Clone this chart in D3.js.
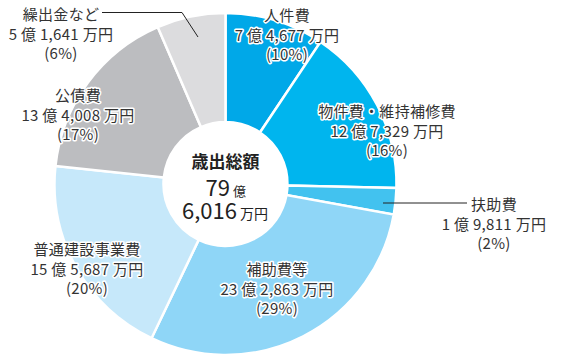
<!DOCTYPE html>
<html>
<head>
<meta charset="utf-8">
<script src="https://cdn.jsdelivr.net/npm/d3@7"></script>
<style>
  body { margin: 0; background: #fff; }
  svg { font-family: "Noto Sans CJK JP", "Noto Sans", sans-serif; }
  .lbl { fill: #333; stroke: #fff; stroke-width: 3px; paint-order: stroke; stroke-linejoin: round; letter-spacing: 0.3px; }
</style>
</head>
<body>
<svg id="chart" width="569" height="362"></svg>
<script>
// data, in 万円, clockwise from the top
const categories = ["人件費", "物件費・維持補修費", "扶助費", "補助費等", "普通建設事業費", "公債費", "繰出金など"]
const values = [74677, 127329, 19811, 232863, 155687, 134008, 51641]
const percents = ["10%", "16%", "2%", "29%", "20%", "17%", "6%"]
const totalOku = "79", totalMan = "6,016"

const colors = ["#00a8e8", "#00b5ee", "#42c2ef", "#8fd6f7", "#c6e8fa", "#bcbdc0", "#dcdcde"]

// where each label block sits (center x, first baseline)
const labelPos = [[287, 21], [387, 117], [494, 210], [277, 275], [87, 255], [78, 101], [61, 20]]

const cx = 225.5, cy = 184, rOut = 171, rIn = 62

const svg = d3.select("#chart")
const g = svg.append("g").attr("transform", `translate(${cx},${cy})`)

const pie = d3.pie().sort(null).value(d => d)
const arc = d3.arc().innerRadius(rIn).outerRadius(rOut)

g.selectAll("path").data(pie(values)).enter().append("path")
  .attr("d", arc)
  .attr("fill", (d, i) => colors[i])
  .attr("stroke", "#fff")
  .attr("stroke-width", 2.5)

// leader lines for the two outside labels
svg.append("line").attr("x1", 383).attr("y1", 203).attr("x2", 467).attr("y2", 203)
  .attr("stroke", "#222").attr("stroke-width", 1)
svg.append("polyline").attr("points", "102,12.5 182,12.5 198,37")
  .attr("fill", "none").attr("stroke", "#222").attr("stroke-width", 1)

const fmt = d3.format(",")
function valText(v) {
  return `${Math.floor(v / 10000)} 億 ${fmt(v % 10000)} 万円`
}

categories.forEach((c, i) => {
  let [x, y] = labelPos[i]
  let t = svg.append("g").attr("class", "lbl").attr("font-size", 15).attr("text-anchor", "middle")
  t.append("text").attr("x", x).attr("y", y).text(c)
  t.append("text").attr("x", x).attr("y", y + 20).text(valText(values[i]))
  t.append("text").attr("x", x).attr("y", y + 39).text(`(${percents[i]})`)
})

// center total
const ct = svg.append("g").attr("fill", "#222")
ct.append("text").attr("x", cx).attr("y", 168).attr("text-anchor", "middle")
  .attr("font-size", 17).attr("font-weight", "bold").text("歳出総額")
ct.append("text").attr("x", 230).attr("y", 196).attr("text-anchor", "end").attr("font-size", 22).text(totalOku)
ct.append("text").attr("x", 233).attr("y", 196).attr("font-size", 13).text("億")
ct.append("text").attr("x", 237).attr("y", 219).attr("text-anchor", "end").attr("font-size", 22).text(totalMan)
ct.append("text").attr("x", 240).attr("y", 219).attr("font-size", 14).text("万円")
</script>
</body>
</html>
